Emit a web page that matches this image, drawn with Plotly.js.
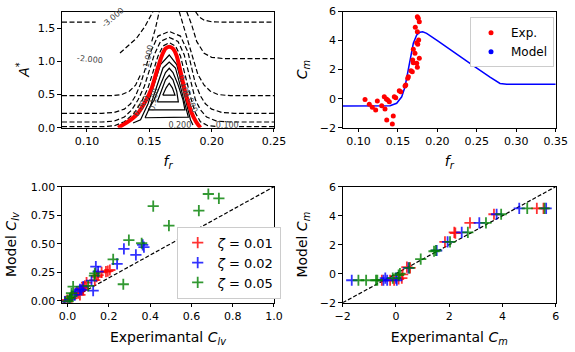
<!DOCTYPE html>
<html><head><meta charset="utf-8">
<script src="https://cdn.plot.ly/plotly-3.0.1.min.js"></script>
<style>html,body{margin:0;padding:0;background:#fff}#chart{width:575px;height:352px}</style>
</head><body><div id="chart"></div>
<script>
// ---------------- Panel 1: contour map of A* vs f_r (lines) ----------------
// dashed (negative) levels
const lvNeg3L_x=[0.08,0.107], lvNeg3L_y=[1.59,1.59];
const lvNeg3R_x=[0.187,0.190,0.194,0.200,0.210,0.25], lvNeg3R_y=[1.75,1.67,1.62,1.595,1.59,1.59];
const lvNeg2L_x=[0.1265,0.1319,0.1399,0.1466,0.1519,0.153], lvNeg2L_y=[1.125,1.21,1.35,1.527,1.727,1.75];
const lvNeg2R_x=[0.180,0.184,0.188,0.194,0.200,0.210,0.25], lvNeg2R_y=[1.75,1.55,1.3,1.12,1.06,1.04,1.04];
const lvNeg1L_x=[0.08,0.12,0.128,0.134,0.139,0.143,null,0.152,0.155,0.158], lvNeg1L_y=[0.482,0.482,0.50,0.55,0.64,0.80,null,1.30,1.5,1.75];
const lvNeg1R_x=[0.174,0.177,0.181,0.185,0.189,0.194,0.199,0.205,0.215,0.25], lvNeg1R_y=[1.75,1.55,1.3,1.05,0.8,0.64,0.55,0.50,0.482,0.482];
const lvA_x=[0.08,0.112,0.122,0.130,0.135,0.139,0.143,0.147,0.151,0.157,0.166,0.175,0.181,0.184,0.187,0.191,0.195,0.200,0.208,0.218,0.25];
const lvA_y=[0.217,0.217,0.23,0.28,0.36,0.48,0.66,0.9,1.14,1.38,1.45,1.38,1.14,0.9,0.66,0.48,0.36,0.28,0.23,0.217,0.217];
const lvB_x=[0.08,0.112,0.122,0.130,0.136,0.141,0.146,0.150,0.154,0.159,0.166,0.173,0.178,0.181,0.184,0.187,0.191,0.196,0.204,0.215,0.25];
const lvB_y=[0.086,0.086,0.1,0.16,0.27,0.42,0.62,0.87,1.1,1.3,1.36,1.3,1.1,0.87,0.62,0.42,0.27,0.16,0.1,0.086,0.086];
const lvC_x=[0.08,0.114,0.122,0.130,0.138,0.144,0.149,0.153,0.157,0.161,0.166,0.171,0.175,0.178,0.181,0.184,0.187,0.191,0.197,0.205,null,0.222,0.25];
const lvC_y=[0.015,0.015,0.03,0.09,0.22,0.4,0.6,0.85,1.08,1.23,1.28,1.23,1.08,0.85,0.6,0.4,0.22,0.09,0.03,0.015,null,0.015,0.015];
// solid (positive) levels
const lvP1_x=[0.1608,0.1635,0.166,0.1685,0.1706,0.1608], lvP1_y=[0.49,0.60,0.67,0.60,0.49,0.49];
const lvP2_x=[0.1564,0.1595,0.163,0.166,0.169,0.172,0.1733,0.1564], lvP2_y=[0.39,0.55,0.72,0.79,0.72,0.55,0.39,0.39];
const lvP3_x=[0.1492,0.154,0.159,0.163,0.166,0.169,0.173,0.177,0.1786,0.1492], lvP3_y=[0.27,0.42,0.65,0.83,0.895,0.83,0.65,0.42,0.27,0.27];
const lvP4_x=[0.1466,0.151,0.156,0.161,0.166,0.171,0.175,0.179,0.1813,0.1466], lvP4_y=[0.15,0.33,0.62,0.9,0.99,0.9,0.62,0.33,0.16,0.15];
const lvP5_x=[0.137,0.143,0.149,0.154,0.159,0.166,0.172,0.176,0.180,0.183,0.185], lvP5_y=[0.07,0.12,0.36,0.66,0.95,1.095,0.95,0.66,0.36,0.12,0.04];
// red boundary curve
const red_x=[0.125,0.133,0.141,0.147,0.152,0.156,0.160,0.163,0.166,0.169,0.172,0.175,0.178,0.181,0.184,0.1875,0.191];
const red_y=[0.0,0.09,0.22,0.4,0.6,0.85,1.08,1.19,1.22,1.19,1.08,0.85,0.6,0.4,0.22,0.09,0.0];

// ---------------- Panel 2: C_m vs f_r ----------------
const exp_fr=[0.1083,0.1137,0.1175,0.1218,0.1239,0.1294,0.1327,0.1353,0.1370,0.1391,0.1336,0.1358,0.1429,0.1441,0.1454,0.1472,0.1517,0.1535,0.1590,0.1599,0.1624,0.1632,0.1666,0.1682,0.1687,0.1716,0.1738,0.1746,0.1771,0.1738,0.1751,0.1720,0.1746,0.1758,0.1771,0.1746,0.1763,0.1695,0.1695];
const exp_cm=[-0.05,-0.39,-0.60,-0.78,-0.16,-0.49,0.13,-0.02,-0.09,-0.21,-0.71,-1.47,-1.75,-1.20,0.13,0.07,0.55,0.48,0.87,0.94,1.40,1.51,1.92,1.86,2.66,3.12,2.43,2.16,2.78,3.85,3.74,4.91,5.64,5.53,5.30,4.61,4.04,2.47,3.40];
const model_fr=[0.08,0.10,0.12,0.14,0.1484,0.1548,0.159,0.1632,0.1662,0.1695,0.1738,0.178,0.1814,0.1864,0.20,0.2245,0.25,0.2667,0.2752,0.2794,0.2879,0.30,0.35];
const model_cm=[-0.5,-0.5,-0.5,-0.49,-0.32,0.13,0.82,1.97,2.89,3.81,4.38,4.57,4.60,4.50,4.0,3.05,2.1,1.48,1.16,1.05,1.0,1.0,1.0];

// ---------------- Panel 3: Model vs experimental C_lv ----------------
const clv_x_001=[0.205,0.186,0.165,0.195,0.141,0.148,0.132,0.092,0.084,0.076,0.073,0.060,0.051,0.039,0.020,0.0,-0.010];
const clv_y_001=[0.269,0.254,0.249,0.260,0.210,0.225,0.180,0.158,0.129,0.094,0.110,0.050,0.065,0.065,0.020,0.006,-0.005];
const clv_x_002=[0.370,0.364,0.331,0.273,0.240,0.148,0.137,0.124,0.116,0.076,0.068,0.060,0.044,0.035,0.011,-0.013];
const clv_y_002=[0.470,0.489,0.401,0.454,0.322,0.254,0.298,0.088,0.175,0.123,0.094,0.100,0.079,0.050,0.010,-0.009];
const clv_x_005=[0.682,0.733,0.415,0.636,0.491,0.297,0.359,0.221,0.270,0.132,0.130,0.100,0.027,0.019,0.011,0.003,0.020];
const clv_y_005=[0.936,0.898,0.830,0.790,0.658,0.532,0.504,0.363,0.144,0.240,0.220,0.129,0.123,0.065,0.021,-0.005,0.040];
const diag1=[-0.03,1.0];

// ---------------- Panel 4: Model vs experimental C_m ----------------
const cm_x_001=[5.29,5.54,3.68,2.78,2.19,2.23,1.84,0.53,0.41,0.25,0.22,0.10,-0.53,-0.07,-0.22];
const cm_y_001=[4.50,4.50,4.10,3.50,2.85,2.80,2.20,0.40,0.45,-0.05,-0.30,-0.35,-0.45,-0.45,-0.45];
const cm_x_002=[4.63,5.64,3.78,3.13,2.47,1.94,1.53,0.47,0.00,-1.66,-0.47,-0.33,0.03,-0.40];
const cm_y_002=[4.50,4.50,4.10,3.50,2.85,2.20,1.60,0.40,-0.30,-0.45,-0.45,-0.45,-0.45,-0.30];
const cm_x_005=[4.93,5.58,3.95,3.38,2.70,2.03,1.43,1.50,0.93,0.50,0.15,-0.12,-1.41,-1.12,-0.75,-0.70,0.10];
const cm_y_005=[4.50,4.50,4.10,3.50,2.85,2.20,1.55,1.60,1.00,0.40,0.00,-0.30,-0.45,-0.45,-0.45,-0.45,-0.10];
const diag2=[-2,6];

const legendLabels=['Exp.','Model','<i>ζ</i> = 0.01','<i>ζ</i> = 0.02','<i>ζ</i> = 0.05'];

// ---------------- traces ----------------
const F='DejaVu Sans';
const dashStyle='5px,2.5px';
function cline(x,y,dashed){return {x:x,y:y,xaxis:'x',yaxis:'y',mode:'lines',showlegend:false,hoverinfo:'skip',
  line:{color:'black',width:1.2,dash:dashed?dashStyle:'solid'}};}
const traces=[];
[[lvNeg3L_x,lvNeg3L_y],[lvNeg3R_x,lvNeg3R_y],[lvNeg2L_x,lvNeg2L_y],[lvNeg2R_x,lvNeg2R_y],[lvNeg1L_x,lvNeg1L_y],[lvNeg1R_x,lvNeg1R_y],
 [lvA_x,lvA_y],[lvB_x,lvB_y],[lvC_x,lvC_y]].forEach(p=>traces.push(cline(p[0],p[1],true)));
[[lvP1_x,lvP1_y],[lvP2_x,lvP2_y],[lvP3_x,lvP3_y],[lvP4_x,lvP4_y],[lvP5_x,lvP5_y]].forEach(p=>traces.push(cline(p[0],p[1],false)));
traces.push({x:red_x,y:red_y,xaxis:'x',yaxis:'y',mode:'lines',showlegend:false,line:{color:'#ff0000',width:4,shape:'spline',smoothing:0.6}});
// clipped contour labels at bottom
traces.push({x:[0.1745,0.2125],y:[0.02,0.02],xaxis:'x',yaxis:'y',mode:'text',text:['0.200','0.100'],cliponaxis:true,
  textfont:{family:F,size:8,color:'#444'},showlegend:false,hoverinfo:'skip'});

// panel 2
traces.push({x:model_fr,y:model_cm,xaxis:'x2',yaxis:'y2',mode:'lines',showlegend:false,line:{color:'#0000ff',width:1.5}});
traces.push({x:exp_fr,y:exp_cm,xaxis:'x2',yaxis:'y2',mode:'markers',name:legendLabels[0],legend:'legend',
  marker:{color:'#ff0000',size:5}});
traces.push({x:[null],y:[null],xaxis:'x2',yaxis:'y2',mode:'markers',name:legendLabels[1],legend:'legend',
  marker:{color:'#0000ff',size:5}});

// panel 3
traces.push({x:diag1,y:diag1,xaxis:'x3',yaxis:'y3',mode:'lines',showlegend:false,line:{color:'black',width:1.2,dash:'4px,2px'}});
function crosses(x,y,c,name,xa,ya,lg){return {x:x,y:y,xaxis:xa,yaxis:ya,mode:'markers',name:name,showlegend:lg,legend:'legend2',
  marker:{symbol:'cross-thin',size:8,color:c,opacity:0.8,line:{color:c,width:1.8}}};}
traces.push(crosses(clv_x_001,clv_y_001,'#ff0000',legendLabels[2],'x3','y3',true));
traces.push(crosses(clv_x_002,clv_y_002,'#0000ff',legendLabels[3],'x3','y3',true));
traces.push(crosses(clv_x_005,clv_y_005,'#008000',legendLabels[4],'x3','y3',true));
// panel 4
traces.push({x:diag2,y:diag2,xaxis:'x4',yaxis:'y4',mode:'lines',showlegend:false,line:{color:'black',width:1.2,dash:'4px,2px'}});
traces.push(crosses(cm_x_001,cm_y_001,'#ff0000','a','x4','y4',false));
traces.push(crosses(cm_x_002,cm_y_002,'#0000ff','b','x4','y4',false));
traces.push(crosses(cm_x_005,cm_y_005,'#008000','c','x4','y4',false));

// ---------------- layout ----------------
function ax(o){return Object.assign({showline:true,mirror:true,linecolor:'black',linewidth:1,ticks:'outside',ticklen:3.5,tickwidth:1,
  tickcolor:'black',showgrid:false,zeroline:false,automargin:false,tickfont:{family:F,size:11,color:'black'}},o);}
function ttl(t,s){return {text:t,font:{family:F,size:14,color:'black'},standoff:s};}
const yTop=[0.6372,0.9673], yBot=[0.140,0.4696], xL=[0.1078,0.4765], xR=[0.596,0.9665];
const lab={family:F,size:8,color:'#444'};
function clab(t,x,y,a){return {text:t,x:x,y:y,xref:'x',yref:'y',showarrow:false,textangle:a,font:lab};}
const layout={
  width:575,height:352,margin:{l:0,r:0,t:0,b:0},paper_bgcolor:'white',plot_bgcolor:'white',
  font:{family:F,color:'black'},
  xaxis:ax({domain:xL,range:[0.08,0.25],dtick:0.05,tickformat:'.2f',anchor:'y',title:ttl('<i>f</i><sub><i>r</i></sub>',8)}),
  yaxis:ax({domain:yTop,range:[0,1.75],dtick:0.5,tickformat:'.1f',anchor:'x',title:ttl('<i>A</i><sup>*</sup>',4)}),
  xaxis2:ax({domain:xR,range:[0.08,0.35],dtick:0.05,tickformat:'.2f',anchor:'y2',title:ttl('<i>f</i><sub><i>r</i></sub>',8)}),
  yaxis2:ax({domain:yTop,range:[-2,6],dtick:2,anchor:'x2',title:ttl('<i>C</i><sub><i>m</i></sub>',8)}),
  xaxis3:ax({domain:xL,range:[-0.027,1.0],dtick:0.2,tickformat:'.1f',anchor:'y3',title:ttl('Experimantal <i>C</i><sub><i>lv</i></sub>',9)}),
  yaxis3:ax({domain:yBot,range:[-0.018,1.0],dtick:0.25,tickformat:'.2f',anchor:'x3',title:ttl('Model <i>C</i><sub><i>lv</i></sub>',10)}),
  xaxis4:ax({domain:xR,range:[-2,6],dtick:2,anchor:'y4',title:ttl('Experimantal <i>C</i><sub><i>m</i></sub>',9)}),
  yaxis4:ax({domain:yBot,range:[-2,6],dtick:2,anchor:'x4',title:ttl('Model <i>C</i><sub><i>m</i></sub>',8)}),
  legend:{x:0.8174,y:0.951,xanchor:'left',yanchor:'top',bgcolor:'white',bordercolor:'#cccccc',borderwidth:1,
    font:{family:F,size:12,color:'black'},tracegroupgap:0},
  legend2:{x:0.3073,y:0.356,xanchor:'left',yanchor:'top',bgcolor:'white',bordercolor:'#cccccc',borderwidth:1,
    font:{family:F,size:13,color:'black'},tracegroupgap:0},
  annotations:[
    clab('-3.000',0.121,1.66,-40),
    clab('-2.000',0.1025,1.02,5),
    clab('-1.000',0.1495,1.05,-78),
    clab('0.000',0.1434,0.32,-58),
    clab('0.100',0.1536,0.43,-80),
    clab('0.100',0.1778,0.62,75),
    clab('0.000',0.1835,0.40,68)
  ]
};
Plotly.newPlot('chart',traces,layout,{staticPlot:true,displayModeBar:false});
</script></body></html>
